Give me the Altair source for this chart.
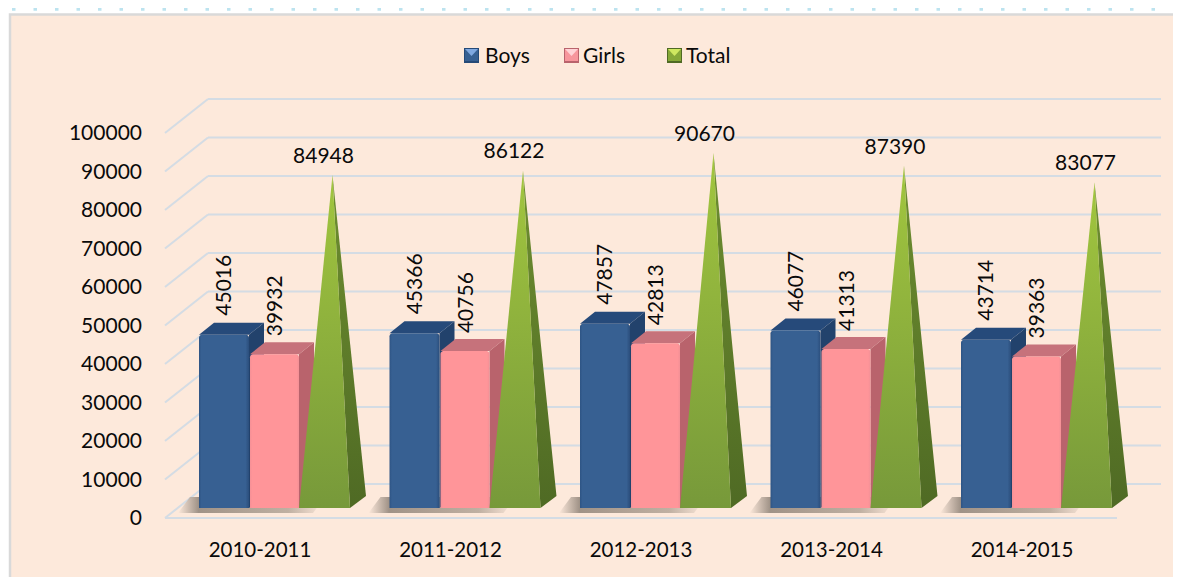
import altair as alt
import pandas as pd

categories = ["2010-2011", "2011-2012", "2012-2013", "2013-2014", "2014-2015"]
boys = [45016, 45366, 47857, 46077, 43714]
girls = [39932, 40756, 42813, 41313, 39363]
total = [84948, 86122, 90670, 87390, 83077]
y_ticks = [0, 10000, 20000, 30000, 40000, 50000, 60000, 70000, 80000, 90000, 100000]

W, H = 1165, 569
FONT = "Lato"
FS = 21
INK = "#0A0A0A"
STEP = 190.5
PX0 = 199
K = 0.00385
Y0 = 518


def X(px):
    return (px - PX0) / STEP


def Y(py):
    return (Y0 - py) / K


def U(px):
    return px / STEP


def V(py):
    return py / K


x_enc = dict(scale=alt.Scale(domain=[X(8), X(8 + W)], nice=False, zero=False), axis=None, title=None)
y_scale = alt.Scale(domain=[Y(8 + H), Y(8)], nice=False, zero=False)
y_none = dict(scale=y_scale, axis=None, title=None)


def qx(f="x"):
    return alt.X(f"{f}:Q", **x_enc)


def qy(f="y"):
    return alt.Y(f"{f}:Q", **y_none)


def grad(stops, horizontal=False):
    s = [alt.GradientStop(color=c, offset=o) for o, c in stops]
    if horizontal:
        return alt.Gradient(gradient="linear", stops=s, x1=0, x2=1, y1=0, y2=0)
    return alt.Gradient(gradient="linear", stops=s, x1=0, x2=0, y1=0, y2=1)


def rect(df, **kw):
    return alt.Chart(df).mark_rect(**kw).encode(x=qx("x"), x2="x2:Q", y=qy("y"), y2="y2:Q")


FLOOR = V(10)
DX = U(15)
DY = V(12)
LINE = "#D4DCE4"

# panel
panel = rect(pd.DataFrame([dict(x=X(10), x2=X(1200), y=Y(14.5), y2=Y(600))]),
             fill="#FDE9DB", stroke="#D9D9D9", strokeWidth=2.5)
dots = alt.Chart(pd.DataFrame([dict(x=X(12), x2=X(1173), y=Y(9))])).mark_rule(
    stroke="#BCE3EF", strokeWidth=3.5, strokeDash=[3.5, 18]
).encode(x=qx("x"), x2="x2:Q", y=qy("y"))

# y tick labels
y_labels = alt.Chart(pd.DataFrame({"y": y_ticks, "t": [str(t) for t in y_ticks], "x": [X(142)] * len(y_ticks)})).mark_text(
    align="right", baseline="middle", font=FONT, fontSize=FS, color=INK, dy=1
).encode(x=qx("x"), y=qy("y"), text="t:N")

# walls
back = pd.DataFrame([dict(x=X(208), x2=X(1161), y=t + V(34)) for t in y_ticks])
back_lines = alt.Chart(back).mark_rule(stroke=LINE, strokeWidth=2).encode(x=qx("x"), x2="x2:Q", y=qy("y"))
front = pd.DataFrame([dict(x=X(165), x2=X(1117), y=0)])
front_line = alt.Chart(front).mark_rule(stroke=LINE, strokeWidth=2).encode(x=qx("x"), x2="x2:Q", y=qy("y"))
diag_rows = []
for t in y_ticks:
    diag_rows.append(dict(t=t, x=X(165), y=t))
    diag_rows.append(dict(t=t, x=X(208), y=t + V(34)))
diag = alt.Chart(pd.DataFrame(diag_rows)).mark_line(stroke=LINE, strokeWidth=2).encode(x=qx("x"), y=qy("y"), detail="t:N")

# floor shadow
shadow_rows = []
for i in range(5):
    shadow_rows.append(dict(i=i, y=FLOOR - V(5), x=i + U(-21), x2=i + U(114)))
    shadow_rows.append(dict(i=i, y=FLOOR + V(11), x=i + U(-9), x2=i + U(126)))
shadow = alt.Chart(pd.DataFrame(shadow_rows)).mark_area(
    orient="horizontal", opacity=0.85,
    color=grad([(0, "#FDE9DB"), (0.14, "#8F8378"), (0.75, "#B5A698"), (1, "#FDE9DB")], horizontal=True),
).encode(y=qy("y"), x=qx("x"), x2="x2:Q", detail="i:N")


def box(values, off, width, cf, ct, cs):
    fr, tp, sd = [], [], []
    for i, v in enumerate(values):
        a, b = i + U(off), i + U(off + width)
        top = v + FLOOR
        fr.append(dict(x=a, x2=b, y=top, y2=FLOOR))
        tp.append(dict(i=i, y=top, x=a, x2=b))
        tp.append(dict(i=i, y=top + DY, x=a + DX, x2=b + DX))
        sd.append(dict(i=i, x=b, y=top, y2=FLOOR))
        sd.append(dict(i=i, x=b + DX, y=top + DY, y2=FLOOR + DY))
    side = alt.Chart(pd.DataFrame(sd)).mark_area(color=cs).encode(x=qx("x"), y=qy("y"), y2="y2:Q", detail="i:N")
    topf = alt.Chart(pd.DataFrame(tp)).mark_area(orient="horizontal", color=ct).encode(
        y=qy("y"), x=qx("x"), x2="x2:Q", detail="i:N")
    face = rect(pd.DataFrame(fr), color=cf, cornerRadiusTopLeft=3, cornerRadiusTopRight=3)
    return [side, topf, face]


blue = grad([(0, "#2E5484"), (0.05, "#376092"), (0.93, "#376092"), (1, "#2B4E7C")], horizontal=True)
pink = grad([(0, "#F59096"), (0.05, "#FF9599"), (0.95, "#FF9599"), (1, "#F39096")], horizontal=True)
boys_layers = box(boys, 0, 50, blue, "#264A7A", "#22426C")
girls_layers = box(girls, 51, 49, pink, "#C6727B", "#B9636C")

# pyramids
pf, ps = [], []
PD = U(16)
for i, v in enumerate(total):
    a, b = i + U(100), i + U(151)
    ax = (a + b + PD) / 2
    ay = v + FLOOR + DY / 2
    pf.append(dict(i=i, y=FLOOR, x=a, x2=b))
    pf.append(dict(i=i, y=ay, x=ax, x2=ax))
    mid = FLOOR + DY
    left = b + (ax - b) * (mid - FLOOR) / (ay - FLOOR)
    ps.append(dict(i=i, y=FLOOR, x=b, x2=b))
    ps.append(dict(i=i, y=mid, x=left, x2=b + PD))
    ps.append(dict(i=i, y=ay, x=ax, x2=ax))
pyr_side = alt.Chart(pd.DataFrame(ps)).mark_area(
    orient="horizontal", color=grad([(0, "#6E8F30"), (1, "#4F6A24")])
).encode(y=qy("y"), x=qx("x"), x2="x2:Q", detail="i:N")
pyr_front = alt.Chart(pd.DataFrame(pf)).mark_area(
    orient="horizontal", color=grad([(0, "#A2C63F"), (1, "#77993A")])
).encode(y=qy("y"), x=qx("x"), x2="x2:Q", detail="i:N")

# value labels
rot = []
for i in range(5):
    rot.append(dict(x=i + U(26), y=boys[i] + FLOOR + DY + V(7), t=str(boys[i])))
    rot.append(dict(x=i + U(77), y=girls[i] + FLOOR + DY + V(6), t=str(girls[i])))
rot_labels = alt.Chart(pd.DataFrame(rot)).mark_text(
    angle=270, align="left", baseline="middle", font=FONT, fontSize=FS, color=INK
).encode(x=qx("x"), y=qy("y"), text="t:N")
tops = [dict(x=i + (U(100) + U(151) + PD) / 2 - U(9), y=total[i] + FLOOR + DY / 2 + V(18), t=str(total[i])) for i in range(5)]
top_labels = alt.Chart(pd.DataFrame(tops)).mark_text(
    align="center", baseline="middle", font=FONT, fontSize=FS, color=INK
).encode(x=qx("x"), y=qy("y"), text="t:N")
cats = [dict(x=i + U(61), y=Y(551), t=c) for i, c in enumerate(categories)]
cat_labels = alt.Chart(pd.DataFrame(cats)).mark_text(
    align="center", baseline="middle", font=FONT, fontSize=20.5, color=INK
).encode(x=qx("x"), y=qy("y"), text="t:N")

# legend
legend_items = [("Boys", 464, 485, "#376092", "#7FA8E0", "#254A78"),
                ("Girls", 564, 583, "#F7969C", "#FFD3D6", "#B9636C"),
                ("Total", 667, 686, "#86A838", "#CFE860", "#4F6A24")]
leg = []
for name, sx, tx, c, light, dark in legend_items:
    leg.append(rect(pd.DataFrame([dict(x=X(sx), x2=X(sx + 15), y=Y(48), y2=Y(63))]), color=dark))
    leg.append(rect(pd.DataFrame([dict(x=X(sx + 1), x2=X(sx + 14), y=Y(49), y2=Y(61))]), color=c))
    tri = pd.DataFrame([dict(y=Y(49), x=X(sx + 1), x2=X(sx + 14)), dict(y=Y(56), x=X(sx + 7.5), x2=X(sx + 7.5))])
    leg.append(alt.Chart(tri).mark_area(orient="horizontal", color=light).encode(y=qy("y"), x=qx("x"), x2="x2:Q"))
    leg.append(alt.Chart(pd.DataFrame([dict(x=X(tx), y=Y(56.5), t=name)])).mark_text(
        align="left", baseline="middle", font=FONT, fontSize=FS, color=INK
    ).encode(x=qx("x"), y=qy("y"), text="t:N"))

layers = [panel, dots, back_lines, diag, front_line, shadow] + boys_layers + girls_layers + [
    pyr_side, pyr_front, y_labels, rot_labels, top_labels, cat_labels] + leg

chart = alt.layer(*layers).properties(
    width=W, height=H, padding=0, autosize=alt.AutoSizeParams(type="none"), background="white"
).configure_view(stroke=None)

chart.save("out.html", embed_options={"renderer": "svg", "actions": False})
